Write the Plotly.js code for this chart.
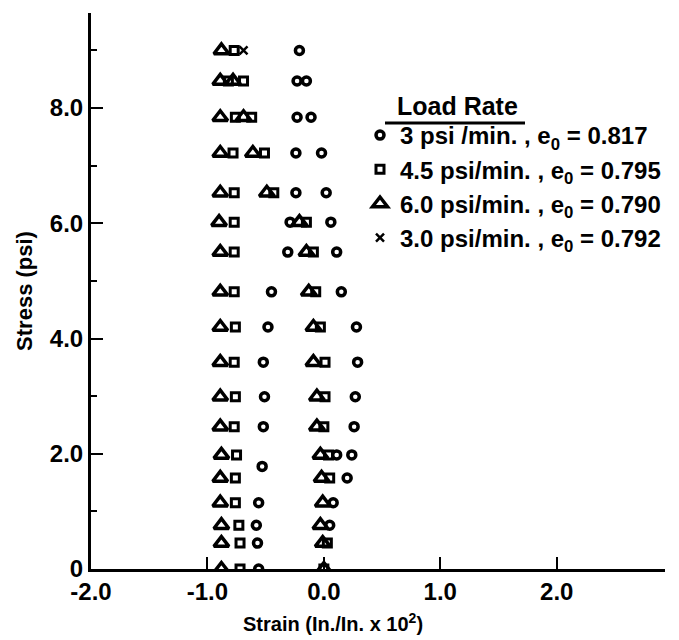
<!DOCTYPE html>
<html>
<head>
<meta charset="utf-8">
<script src="https://cdn.plot.ly/plotly-3.0.1.min.js"></script>
<style>html,body{margin:0;padding:0;background:#fff;}#chart{width:679px;height:640px;}</style>
</head>
<body>
<div id="chart"></div>
<script>
// Load rate 3 psi/min (circles)
const circleStress = [9.0, 8.47, 8.47, 7.84, 7.84, 7.22, 7.22, 6.53, 6.53, 6.02, 6.02, 5.5, 5.5, 4.81, 4.81, 4.2, 4.2, 3.59, 3.59, 2.99, 2.99, 2.47, 2.47, 1.98, 1.98, 1.78, 1.58, 1.15, 1.15, 0.76, 0.76, 0.45, 0.0];
const circleStrain = [-0.21, -0.23, -0.15, -0.23, -0.11, -0.24, -0.02, -0.24, 0.02, -0.29, 0.06, -0.31, 0.11, -0.45, 0.15, -0.48, 0.28, -0.52, 0.29, -0.51, 0.27, -0.52, 0.26, 0.11, 0.24, -0.53, 0.20, -0.56, 0.08, -0.58, 0.05, -0.57, -0.56];
// Load rate 4.5 psi/min (squares)
const squareStress = [9.0, 8.47, 8.47, 7.84, 7.84, 7.22, 7.22, 6.53, 6.53, 6.02, 6.02, 5.5, 5.5, 4.81, 4.81, 4.2, 4.2, 3.59, 3.59, 2.99, 2.99, 2.47, 2.47, 1.98, 1.98, 1.58, 1.58, 1.15, 0.76, 0.45, 0.45, 0.0, 0.0];
const squareStrain = [-0.77, -0.82, -0.69, -0.76, -0.62, -0.78, -0.51, -0.77, -0.43, -0.77, -0.15, -0.77, -0.09, -0.77, -0.07, -0.76, -0.03, -0.77, 0.01, -0.76, 0.01, -0.77, 0.0, -0.75, 0.04, -0.76, 0.05, -0.76, -0.73, -0.72, 0.03, -0.72, 0.0];
// Load rate 6.0 psi/min (triangles)
const triStress = [9.0, 8.47, 8.47, 7.84, 7.84, 7.22, 7.22, 6.53, 6.53, 6.02, 6.02, 5.5, 5.5, 4.81, 4.81, 4.2, 4.2, 3.59, 3.59, 2.99, 2.99, 2.47, 2.47, 1.98, 1.98, 1.58, 1.58, 1.15, 1.15, 0.76, 0.76, 0.45, 0.45, 0.0, 0.0];
const triStrain = [-0.88, -0.89, -0.78, -0.89, -0.69, -0.89, -0.61, -0.89, -0.49, -0.90, -0.21, -0.89, -0.15, -0.89, -0.13, -0.89, -0.09, -0.89, -0.09, -0.89, -0.06, -0.89, -0.06, -0.88, -0.03, -0.89, -0.02, -0.89, -0.01, -0.88, -0.03, -0.88, -0.01, -0.88, 0.0];
// Load rate 3.0 psi/min (crosses)
const crossStress = [9.0];
const crossStrain = [-0.69];

const seriesNames = [
  "3 psi /min. , e<sub>0</sub> = 0.817",
  "4.5 psi/min. , e<sub>0</sub> = 0.795",
  "6.0 psi/min. , e<sub>0</sub> = 0.790",
  "3.0 psi/min. , e<sub>0</sub> = 0.792"
];
const xTickVals = [-2, -1, 0, 1, 2];
const xTickText = ["-2.0", "-1.0", "0.0", "1.0", "2.0"];
const yTickVals = [0, 2, 4, 6, 8];
const yTickText = ["0", "2.0", "4.0", "6.0", "8.0"];

const black = "#000";
const FONT = "Liberation Sans, Arial, sans-serif";
const traces = [
  {x: circleStrain, y: circleStress, name: seriesNames[0], type: "scatter", mode: "markers",
   marker: {symbol: "circle-open", size: 8, color: black, line: {width: 3.5, color: black}}},
  {x: squareStrain, y: squareStress, name: seriesNames[1], type: "scatter", mode: "markers",
   marker: {symbol: "square-open", size: 8, color: black, line: {width: 3, color: black}}},
  {x: triStrain, y: triStress, name: seriesNames[2], type: "scatter", mode: "markers",
   marker: {symbol: "triangle-up-open", size: 13, color: black, line: {width: 3.5, color: black}}},
  {x: crossStrain, y: crossStress, name: seriesNames[3], type: "scatter", mode: "markers",
   marker: {symbol: "x-thin-open", size: 8, color: black, line: {width: 2.5, color: black}}}
];

const tickFont = {family: FONT, size: 24, color: black, weight: "bold"};
const px2x = (p) => (p - 91) / 574;
const px2y = (p) => 1 - (p - 13) / 556;
const layout = {
  width: 679, height: 640,
  margin: {l: 91, r: 14, t: 13, b: 71, autoexpand: false},
  paper_bgcolor: "#fff", plot_bgcolor: "#fff",
  showlegend: true,
  legend: {x: px2x(360), xanchor: "left", y: px2y(113), yanchor: "top",
           font: {family: FONT, size: 24, color: black, weight: "bold"},
           bgcolor: "rgba(0,0,0,0)", borderwidth: 0, itemsizing: "trace", tracegroupgap: 0},
  xaxis: {range: [-2.0, 2.93], showgrid: false, zeroline: false,
          showline: true, linecolor: black, linewidth: 2.5,
          tickmode: "array", tickvals: xTickVals, ticktext: xTickText,
          ticks: "inside", ticklen: 12, tickwidth: 2, tickcolor: black,
          tickfont: tickFont},
  yaxis: {range: [0, 9.65], showgrid: false, zeroline: false,
          showline: true, linecolor: black, linewidth: 3,
          tickmode: "array", tickvals: yTickVals, ticktext: yTickText,
          ticks: "inside", ticklen: 12, tickwidth: 2, tickcolor: black,
          minor: {tickvals: [1, 3, 5, 7, 9], ticks: "inside", ticklen: 6, tickwidth: 2, tickcolor: black},
          tickfont: tickFont,
          title: {text: "Stress (psi)", standoff: 12,
                  font: {family: FONT, size: 22, color: black, weight: "bold"}}},
  annotations: [
    {xref: "paper", yref: "paper", x: px2x(457), y: px2y(106),
     xanchor: "center", yanchor: "middle", showarrow: false,
     text: "Load Rate",
     font: {family: FONT, size: 25, color: black, weight: "bold"}},
    {xref: "paper", yref: "paper", x: px2x(333), y: px2y(622),
     xanchor: "center", yanchor: "middle", showarrow: false,
     text: "Strain (In./In. x 10<sup>2</sup>)",
     font: {family: FONT, size: 20, color: black, weight: "bold"}}
  ],
  shapes: [
    {type: "line", xref: "paper", yref: "paper",
     x0: px2x(385), x1: px2x(525), y0: px2y(123), y1: px2y(123),
     line: {color: black, width: 3}}
  ]
};
Plotly.newPlot("chart", traces, layout, {staticPlot: true, displayModeBar: false});
</script>
</body>
</html>
